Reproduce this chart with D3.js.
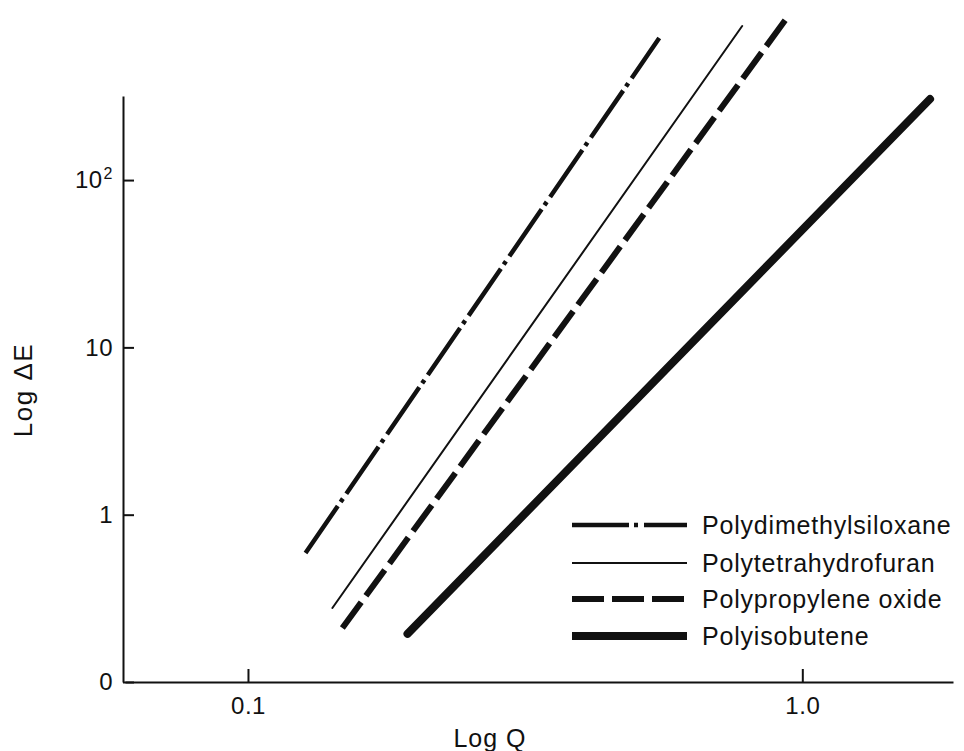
<!DOCTYPE html>
<html>
<head>
    <title>Log dE vs Log Q</title>
    <meta charset="utf-8">
    <style>
        body { margin: 0; background: #fff; }
        text { font-family: "Liberation Sans", Arial, sans-serif; fill: #111; }
        .axis path,
        .axis line {
            fill: none;
            stroke: #111;
            stroke-width: 2px;
        }
        path.line {
            fill: none;
            stroke: #111;
        }
    </style>
    <script src="https://d3js.org/d3.v7.min.js"></script>
</head>
<body>
    <script>
        // series (end points of each straight line)
        var seriesNames = ["Polydimethylsiloxane", "Polytetrahydrofuran", "Polypropylene oxide", "Polyisobutene"];
        var pdmsQ = [0.127, 0.552];
        var pdmsE = [0.59, 706];
        var pthfQ = [0.142, 0.779];
        var pthfE = [0.277, 833];
        var ppoQ = [0.148, 0.943];
        var ppoE = [0.21, 955];
        var pibQ = [0.194, 1.70];
        var pibE = [0.194, 305];

        // tick labels
        var xTickValues = [0.1, 1.0];
        var xTickLabels = ["0.1", "1.0"];
        var yTickValues = [0.1, 1, 10, 100];
        var yTickLabels = ["0", "1", "10", "10^2"];

        var width = 964, height = 751;
        var svg = d3.select("body").append("svg")
            .attr("width", width)
            .attr("height", height);

        var x = d3.scaleLog().domain([0.06, 1.87]).range([125, 953]);
        var y = d3.scaleLog().domain([0.1, 318]).range([682, 96]);

        // axes
        var xAxis = d3.axisBottom(x)
            .tickValues(xTickValues)
            .tickFormat(function(d, i) { return xTickLabels[i]; })
            .tickSizeInner(-13)
            .tickSizeOuter(0)
            .tickPadding(15);
        var yAxis = d3.axisLeft(y)
            .tickValues(yTickValues)
            .tickFormat(function(d, i) { return yTickLabels[i]; })
            .tickSizeInner(-11)
            .tickSizeOuter(0)
            .tickPadding(10);

        var gx = svg.append("g")
            .attr("class", "x axis")
            .attr("transform", "translate(0,682)")
            .call(xAxis);
        gx.selectAll("text")
            .style("font-size", "24px")
            .style("letter-spacing", "0.5px")
            .attr("fill", "#111");

        var gy = svg.append("g")
            .attr("class", "y axis")
            .attr("transform", "translate(123,0)")
            .call(yAxis);
        gy.selectAll("text")
            .style("font-size", "24px")
            .style("letter-spacing", "0.5px")
            .attr("fill", "#111")
            .each(function() {
                var t = d3.select(this);
                var s = t.text();
                if (s.indexOf("^") > 0) {
                    var parts = s.split("^");
                    t.text(parts[0]);
                    t.append("tspan")
                        .attr("dx", 1)
                        .attr("dy", -9)
                        .style("font-size", "16px")
                        .text(parts[1]);
                }
            });

        // axis titles
        svg.append("text")
            .attr("x", 490).attr("y", 747)
            .attr("text-anchor", "middle")
            .style("font-size", "25px")
            .style("letter-spacing", "1px")
            .text("Log Q");
        svg.append("text")
            .attr("transform", "translate(32,390) rotate(-90)")
            .attr("text-anchor", "middle")
            .style("font-size", "26px")
            .style("letter-spacing", "1.5px")
            .text("Log \u0394E");

        // lines
        var styles = [
            { w: 4.5, dash: "57,5,4,6" },
            { w: 2, dash: null },
            { w: 6, dash: "32,8" },
            { w: 8, dash: null }
        ];
        var qs = [pdmsQ, pthfQ, ppoQ, pibQ];
        var es = [pdmsE, pthfE, ppoE, pibE];

        var line = d3.line()
            .x(function(d) { return x(d.q); })
            .y(function(d) { return y(d.e); });

        qs.forEach(function(q, i) {
            var pts = q.map(function(v, j) { return { q: v, e: es[i][j] }; });
            svg.append("path")
                .datum(pts)
                .attr("class", "line")
                .attr("d", line)
                .style("stroke-width", styles[i].w)
                .style("stroke-dasharray", styles[i].dash)
                .style("stroke-linecap", styles[i].dash ? "butt" : "round");
        });

        // legend
        var legY = [525, 563, 599, 636];
        var leg = svg.append("g").attr("class", "legend");
        seriesNames.forEach(function(name, i) {
            leg.append("line")
                .attr("x1", 572).attr("x2", 687)
                .attr("y1", legY[i]).attr("y2", legY[i])
                .style("stroke", "#111")
                .style("stroke-width", styles[i].w)
                .style("stroke-dasharray", styles[i].dash);
            leg.append("text")
                .attr("x", 702).attr("y", legY[i])
                .attr("dy", "0.35em")
                .style("font-size", "25px")
                .style("letter-spacing", "0.8px")
                .text(name);
        });
    </script>
</body>
</html>
